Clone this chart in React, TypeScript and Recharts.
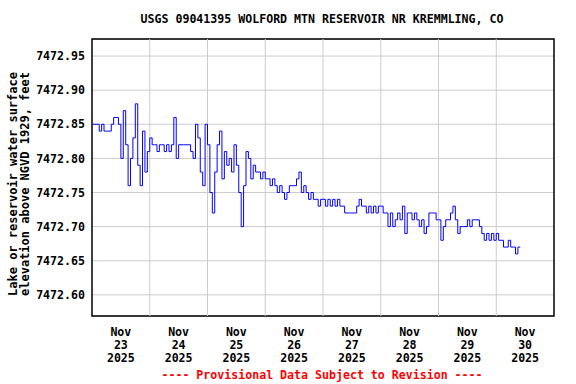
import { LineChart, Line, XAxis, YAxis, CartesianGrid, ReferenceLine, ReferenceArea } from "recharts";

// ── Data ──────────────────────────────────────────────────────────────────────

const stationTitle = "USGS 09041395 WOLFORD MTN RESERVOIR NR KREMMLING, CO";
const yTitle = ["Lake or reservoir water surface", "elevation above NGVD 1929, feet"];
const footNote = "---- Provisional Data Subject to Revision ----";

// hourly readings starting Nov 23 2025 00:00
const elevation = [
    7472.85, 7472.85, 7472.85, 7472.84, 7472.85, 7472.84, 7472.84, 7472.84, 7472.85, 7472.86,
    7472.86, 7472.85, 7472.80, 7472.87, 7472.82, 7472.76, 7472.80, 7472.83, 7472.88, 7472.79,
    7472.76, 7472.84, 7472.78, 7472.81, 7472.83, 7472.82, 7472.82, 7472.81, 7472.82, 7472.82,
    7472.81, 7472.82, 7472.81, 7472.82, 7472.86, 7472.80, 7472.82, 7472.82, 7472.82, 7472.82,
    7472.82, 7472.81, 7472.80, 7472.85, 7472.83, 7472.78, 7472.76, 7472.85, 7472.82, 7472.75,
    7472.72, 7472.78, 7472.82, 7472.84, 7472.77, 7472.81, 7472.79, 7472.80, 7472.78, 7472.82,
    7472.79, 7472.75, 7472.70, 7472.76, 7472.81, 7472.80, 7472.77, 7472.79, 7472.78, 7472.78,
    7472.77, 7472.78, 7472.77, 7472.77, 7472.76, 7472.77, 7472.76, 7472.75, 7472.76, 7472.75,
    7472.74, 7472.75, 7472.76, 7472.76, 7472.76, 7472.77, 7472.78, 7472.75, 7472.76, 7472.75,
    7472.74, 7472.75, 7472.74, 7472.74, 7472.73, 7472.74, 7472.74, 7472.73, 7472.74, 7472.73,
    7472.74, 7472.73, 7472.74, 7472.73, 7472.73, 7472.72, 7472.72, 7472.72, 7472.72, 7472.72,
    7472.73, 7472.74, 7472.73, 7472.73, 7472.72, 7472.73, 7472.72, 7472.73, 7472.72, 7472.73,
    7472.73, 7472.72, 7472.72, 7472.70, 7472.72, 7472.70, 7472.71, 7472.72, 7472.71, 7472.73,
    7472.69, 7472.72, 7472.72, 7472.71, 7472.72, 7472.71, 7472.70, 7472.71, 7472.69, 7472.70,
    7472.72, 7472.72, 7472.72, 7472.71, 7472.71, 7472.68, 7472.70, 7472.71, 7472.71, 7472.72,
    7472.73, 7472.71, 7472.69, 7472.70, 7472.70, 7472.70, 7472.71, 7472.70, 7472.71, 7472.71,
    7472.71, 7472.70, 7472.69, 7472.68, 7472.69, 7472.68, 7472.69, 7472.68, 7472.69, 7472.68,
    7472.68, 7472.67, 7472.67, 7472.68, 7472.67, 7472.67, 7472.66, 7472.67, 7472.67,
];

const dayLabels = ["23", "24", "25", "26", "27", "28", "29", "30"];
const yTicks = [7472.60, 7472.65, 7472.70, 7472.75, 7472.80, 7472.85, 7472.90, 7472.95];
const yDomain = [7472.569, 7472.975];
const xDomain = [0, 192]; // hours since Nov 23 00:00

const labelTicks = dayLabels.map((_, i) => i * 24 + 12);
const dayBounds = dayLabels.slice(1).map((_, i) => (i + 1) * 24);
const series = elevation.map((v, i) => ({ t: i, v }));

const FONT = "'DejaVu Sans Mono', monospace";
const FS = 11.6;

function DayTick({ x, y, payload }: any) {
    const d = dayLabels[Math.floor(payload.value / 24)];
    return (
        <text x={x} y={y + 18} textAnchor="middle" fontFamily={FONT} fontWeight="bold" fontSize={FS} fill="#000">
            <tspan x={x} dy={0}>Nov</tspan>
            <tspan x={x} dy={13}>{d}</tspan>
            <tspan x={x} dy={13}>2025</tspan>
        </text>
    );
}

export default function App() {
    return (
        <div style={{ position: "fixed", left: 0, top: 0, width: 576, height: 384, background: "#fff" }}>
            <LineChart width={576} height={384} data={series} margin={{ top: 39, right: 22, bottom: 0, left: 0 }}>
                <CartesianGrid vertical={false} stroke="#cccccc" />
                {dayBounds.map(b => <ReferenceLine key={b} x={b} stroke="#cccccc" />)}
                <XAxis dataKey="t" type="number" domain={xDomain} ticks={labelTicks} height={68}
                    axisLine={false} tickLine={false} tickSize={0} tick={<DayTick />} interval={0} />
                <YAxis type="number" domain={yDomain} ticks={yTicks} width={92} axisLine={false} tickLine={false}
                    tickSize={0} tickMargin={7} allowDataOverflow
                    tickFormatter={(v: number) => v.toFixed(2)}
                    tick={{ fill: "#000", fontSize: FS, fontFamily: FONT, fontWeight: "bold" }} />
                <Line type="stepAfter" dataKey="v" stroke="#0000ff" strokeWidth={1} dot={false} isAnimationActive={false} />
                <ReferenceArea x1={xDomain[0]} x2={xDomain[1]} y1={yDomain[0]} y2={yDomain[1]} fill="none" stroke="#000" strokeWidth={1.5} fillOpacity={0} />
            </LineChart>
            <svg width={576} height={384} style={{ position: "absolute", left: 0, top: 0, pointerEvents: "none" }}>
                <text x={322} y={23} textAnchor="middle" fontFamily={FONT} fontWeight="bold" fontSize={FS} fill="#000">{stationTitle}</text>
                <text transform="translate(17,184) rotate(-90)" textAnchor="middle" fontFamily={FONT} fontWeight="bold" fontSize={12} fill="#000">
                    <tspan x={0} dy={0}>{yTitle[0]}</tspan>
                    <tspan x={0} dy={12}>{yTitle[1]}</tspan>
                </text>
                <text x={322} y={379} textAnchor="middle" fontFamily={FONT} fontWeight="bold" fontSize={FS} fill="#ff0000">{footNote}</text>
            </svg>
        </div>
    );
}
